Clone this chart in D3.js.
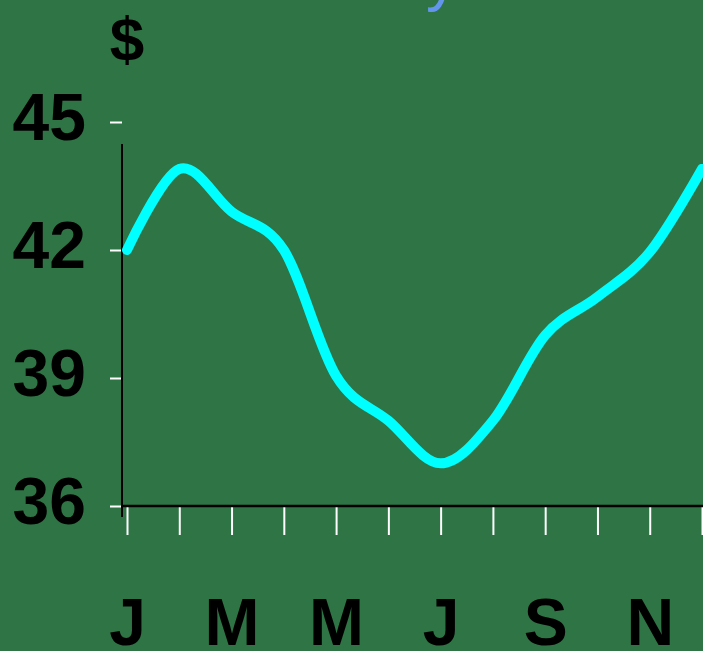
<!DOCTYPE html>
<html>
<head>
<meta charset="utf-8">
<script src="https://cdn.jsdelivr.net/npm/d3@7/dist/d3.min.js"></script>
<style>
  html, body { margin: 0; padding: 0; background: #2e7444; overflow: hidden; }
  svg { display: block; }
</style>
</head>
<body>
<svg id="chart" width="703" height="651"></svg>
<script>
// Monthly price series, January through December
const months = ["J", "F", "M", "A", "M", "J", "J", "A", "S", "O", "N", "D"];
const prices = [42.0, 43.9, 42.9, 42.0, 39.05, 38.0, 37.0, 38.0, 40.0, 40.9, 41.95, 43.9];
// Only every other month is labelled on the axis
const monthLabels = ["J", "", "M", "", "M", "", "J", "", "S", "", "N", ""];
const priceTicks = [36, 39, 42, 45];
const titleText = "Monthly Stock Price";
const unitText = "$";

const W = 703, H = 651;
const bg = "#2e7444";
const font = "'Liberation Sans', Arial, Helvetica, sans-serif";

const svg = d3.select("#chart");
svg.append("rect").attr("width", W).attr("height", H).attr("fill", bg);

const x = d3.scaleLinear().domain([0, months.length - 1]).range([127, 702]);
const y = d3.scaleLinear().domain([36, 45]).range([506, 122]);

// Title (runs off the top edge)
svg.append("text")
  .attr("x", 234).attr("y", -1)
  .attr("font-family", font).attr("font-size", 64)
  .attr("fill", "#6495ed")
  .text(titleText);

// Unit label above the value axis
svg.append("text")
  .attr("x", 127).attr("y", 60)
  .attr("text-anchor", "middle")
  .attr("font-family", font).attr("font-size", 62).attr("font-weight", "bold")
  .attr("fill", "#000")
  .text(unitText);

// Value axis: white ticks, big bold labels
const yAxis = svg.append("g")
  .attr("transform", "translate(122,0)")
  .call(d3.axisLeft(y).tickValues(priceTicks).tickSize(12).tickFormat(d3.format("d")));
yAxis.select(".domain").remove();
yAxis.selectAll(".tick line").attr("stroke", "#fff").attr("stroke-width", 2);
yAxis.selectAll(".tick text")
  .attr("x", -36).attr("dy", 17)
  .attr("font-family", font).attr("font-size", 66).attr("font-weight", "bold")
  .attr("fill", "#000");

// Month axis: white ticks hanging below the baseline
const xAxis = svg.append("g")
  .attr("transform", "translate(0,505)")
  .call(d3.axisBottom(x).tickValues(d3.range(months.length)).tickSize(30)
    .tickFormat((d, i) => monthLabels[i]));
xAxis.select(".domain").remove();
xAxis.selectAll(".tick line").attr("stroke", "#fff").attr("stroke-width", 2);
xAxis.selectAll(".tick text")
  .attr("y", 140).attr("dy", 0)
  .attr("font-family", font).attr("font-size", 66).attr("font-weight", "bold")
  .attr("fill", "#000");

// Black axis lines
svg.append("line")
  .attr("x1", 122).attr("x2", 122).attr("y1", 144).attr("y2", 517)
  .attr("stroke", "#000").attr("stroke-width", 2);
svg.append("line")
  .attr("x1", 122).attr("x2", W).attr("y1", 506).attr("y2", 506)
  .attr("stroke", "#000").attr("stroke-width", 2.5);

// Price line
const line = d3.line()
  .x((d, i) => x(i))
  .y(d => y(d))
  .curve(d3.curveCardinal.tension(0));

svg.append("path")
  .datum(prices)
  .attr("d", line)
  .attr("fill", "none")
  .attr("stroke", "#00ffff")
  .attr("stroke-width", 10)
  .attr("stroke-linecap", "round")
  .attr("stroke-linejoin", "round");
</script>
</body>
</html>
